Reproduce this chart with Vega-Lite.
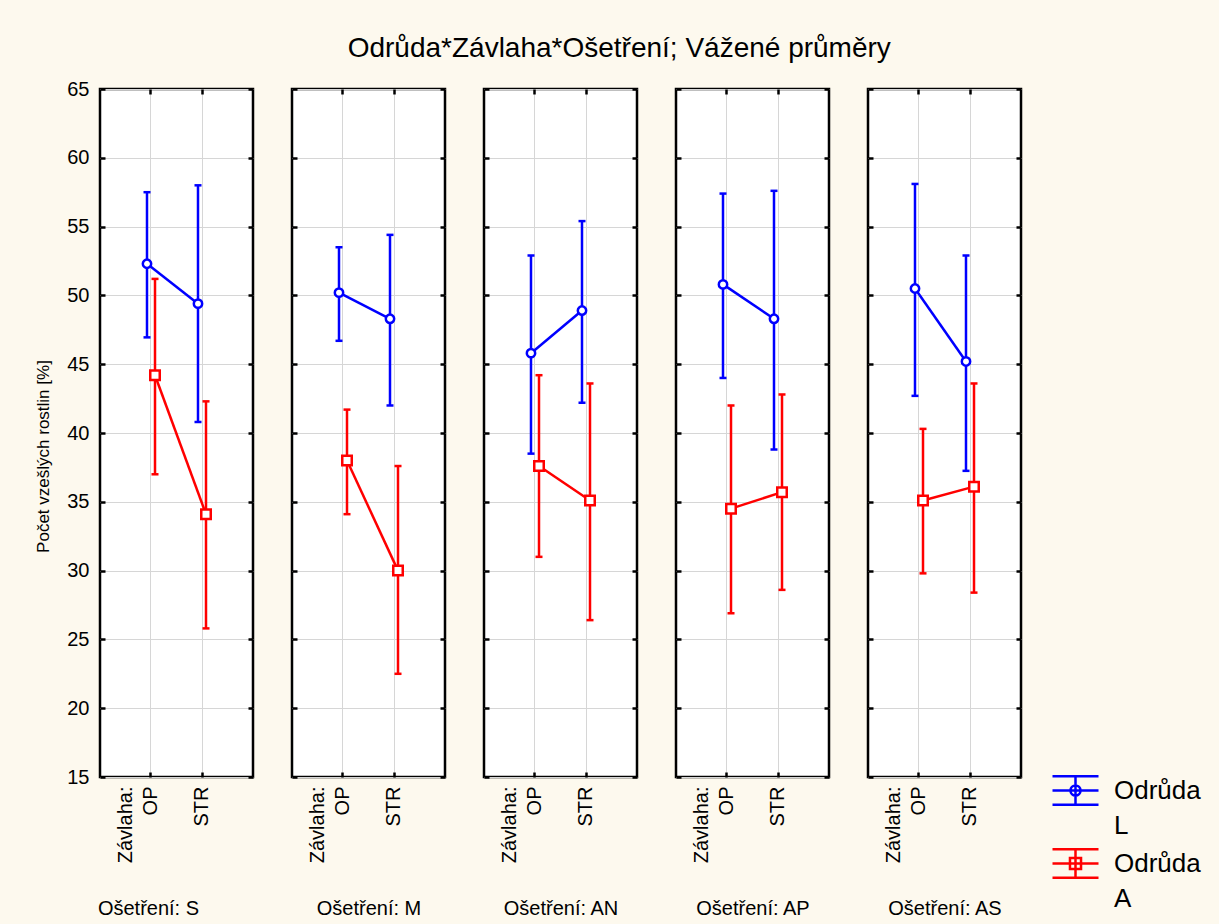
{
  "$schema": "https://vega.github.io/schema/vega-lite/v6.json",
  "background": "#FDF9EE",
  "padding": {"left": 33, "top": 34, "right": 18, "bottom": 5},
  "title": {"text": "Odrůda*Závlaha*Ošetření; Vážené průměry", "font": "Liberation Sans", "fontSize": 28, "fontWeight": "normal", "color": "black", "anchor": "middle", "dx": 2, "offset": 15},
  "datasets": {
    "d": [
      {"O": "S", "Z": "OP", "V": "L", "m": 52.3, "lo": 46.95, "hi": 57.5},
      {"O": "S", "Z": "STR", "V": "L", "m": 49.4, "lo": 40.8, "hi": 58.0},
      {"O": "S", "Z": "OP", "V": "A", "m": 44.2, "lo": 37.0, "hi": 51.2},
      {"O": "S", "Z": "STR", "V": "A", "m": 34.1, "lo": 25.8, "hi": 42.3},
      {"O": "M", "Z": "OP", "V": "L", "m": 50.2, "lo": 46.7, "hi": 53.5},
      {"O": "M", "Z": "STR", "V": "L", "m": 48.3, "lo": 42.0, "hi": 54.4},
      {"O": "M", "Z": "OP", "V": "A", "m": 38.0, "lo": 34.1, "hi": 41.7},
      {"O": "M", "Z": "STR", "V": "A", "m": 30.0, "lo": 22.5, "hi": 37.6},
      {"O": "AN", "Z": "OP", "V": "L", "m": 45.8, "lo": 38.5, "hi": 52.9},
      {"O": "AN", "Z": "STR", "V": "L", "m": 48.9, "lo": 42.2, "hi": 55.4},
      {"O": "AN", "Z": "OP", "V": "A", "m": 37.6, "lo": 31.0, "hi": 44.2},
      {"O": "AN", "Z": "STR", "V": "A", "m": 35.1, "lo": 26.4, "hi": 43.6},
      {"O": "AP", "Z": "OP", "V": "L", "m": 50.8, "lo": 44.0, "hi": 57.4},
      {"O": "AP", "Z": "STR", "V": "L", "m": 48.3, "lo": 38.8, "hi": 57.6},
      {"O": "AP", "Z": "OP", "V": "A", "m": 34.5, "lo": 26.9, "hi": 42.0},
      {"O": "AP", "Z": "STR", "V": "A", "m": 35.7, "lo": 28.6, "hi": 42.8},
      {"O": "AS", "Z": "OP", "V": "L", "m": 50.5, "lo": 42.7, "hi": 58.1},
      {"O": "AS", "Z": "STR", "V": "L", "m": 45.2, "lo": 37.25, "hi": 52.9},
      {"O": "AS", "Z": "OP", "V": "A", "m": 35.1, "lo": 29.8, "hi": 40.3},
      {"O": "AS", "Z": "STR", "V": "A", "m": 36.1, "lo": 28.4, "hi": 43.6}
    ]
  },
  "data": {"name": "d"},
  "spacing": 39,
  "bounds": "flush",
  "hconcat": [
    {
      "width": 153, "height": 688,
      "transform": [{"filter": "datum.O == 'S'"}],
      "encoding": {
        "x": {"field": "Z", "type": "nominal", "scale": {"type": "band", "domain": ["OP", "STR"], "paddingInner": 0.686, "paddingOuter": 0.843}, "axis": null},
        "xOffset": {"field": "V", "type": "nominal", "scale": {"domain": ["L", "A"], "paddingInner": 0, "paddingOuter": 0}},
        "color": {"field": "V", "type": "nominal", "scale": {"domain": ["L", "A"], "range": ["#0000FF", "#FF0000"]}}
      },
      "layer": [
        {"mark": {"type": "point", "filled": false, "opacity": 0, "strokeWidth": 2.5},
         "encoding": {
           "y": {"field": "m", "type": "quantitative", "scale": {"domain": [15, 65], "nice": false, "zero": false}, "axis": null},
           "color": {"field": "V", "type": "nominal", "scale": {"domain": ["L", "A"], "range": ["#0000FF", "#FF0000"]},
                     "legend": {"title": null, "orient": "none", "legendX": 951, "legendY": 677, "padding": 0, "labelExpr": "['Odrůda', datum.label]", "labelFont": "Liberation Sans", "labelFontSize": 26, "labelColor": "black", "labelOffset": 14, "symbolSize": 2116, "symbolStrokeWidth": 2.5, "symbolOpacity": 1, "rowPadding": 0, "labelLimit": 300}},
           "shape": {"field": "V", "type": "nominal", "scale": {"domain": ["L", "A"], "range": ["M-1,-0.62L1,-0.62M-1,0L1,0M-1,0.62L1,0.62M0,-0.62L0,0.62M0.22,0A0.22,0.22,0,1,1,-0.22,0A0.22,0.22,0,1,1,0.22,0", "M-1,-0.62L1,-0.62M-1,0L1,0M-1,0.62L1,0.62M0,-0.62L0,0.62M-0.24,-0.24L0.24,-0.24L0.24,0.24L-0.24,0.24Z"]},
                     "legend": {"title": null, "orient": "none", "legendX": 951, "legendY": 677, "padding": 0, "labelExpr": "['Odrůda', datum.label]", "labelFont": "Liberation Sans", "labelFontSize": 26, "labelColor": "black", "labelOffset": 14, "symbolSize": 2116, "symbolStrokeWidth": 2.5, "symbolOpacity": 1, "rowPadding": 0, "labelLimit": 300}}}},
        {"mark": {"type": "rule", "strokeWidth": 2.5},
         "encoding": {
           "x": {"field": "Z", "type": "nominal", "scale": {"type": "band", "domain": ["OP", "STR"], "paddingInner": 0.686, "paddingOuter": 0.843},
                 "axis": {"orient": "bottom", "grid": true, "labelExpr": "datum.value == 'OP' ? ['Závlaha:', 'OP'] : datum.value", "labelOffset": {"condition": {"test": "datum.value == 'OP'", "value": -25}, "value": 0}, "title": "Ošetření: S", "titleX": 48}},
           "y": {"field": "lo", "type": "quantitative", "scale": {"domain": [15, 65], "nice": false, "zero": false},
                 "axis": {"orient": "left", "values": [15, 20, 25, 30, 35, 40, 45, 50, 55, 60, 65], "grid": true, "labelFlush": false, "labelOverlap": false, "title": "Počet vzešlých rostlin [%]", "titleY": 367}},
           "y2": {"field": "hi"}}},
        {"mark": {"type": "tick", "thickness": 0.5, "size": 5, "filled": false, "strokeWidth": 2, "opacity": 1},
         "encoding": {"y": {"field": "lo", "type": "quantitative", "scale": {"domain": [15, 65], "nice": false, "zero": false}, "axis": null}}},
        {"mark": {"type": "tick", "thickness": 0.5, "size": 5, "filled": false, "strokeWidth": 2, "opacity": 1},
         "encoding": {"y": {"field": "hi", "type": "quantitative", "scale": {"domain": [15, 65], "nice": false, "zero": false}, "axis": null}}},
        {"mark": {"type": "line", "strokeWidth": 2.5},
         "encoding": {
           "x": {"field": "Z", "type": "nominal", "scale": {"type": "band", "domain": ["OP", "STR"], "paddingInner": 0.686, "paddingOuter": 0.843}, "axis": {"orient": "top", "grid": false, "labels": false, "title": null}},
           "y": {"field": "m", "type": "quantitative", "scale": {"domain": [15, 65], "nice": false, "zero": false}, "axis": {"orient": "right", "values": [15, 20, 25, 30, 35, 40, 45, 50, 55, 60, 65], "grid": false, "labels": false, "title": null}}}},
        {"transform": [{"filter": "datum.V == 'L'"}],
         "mark": {"type": "point", "shape": "circle", "size": 70, "filled": true, "stroke": "#0000FF", "strokeWidth": 2.5, "opacity": 1},
         "encoding": {"y": {"field": "m", "type": "quantitative", "scale": {"domain": [15, 65], "nice": false, "zero": false}, "axis": null}, "color": {"value": "white"}}},
        {"transform": [{"filter": "datum.V == 'A'"}],
         "mark": {"type": "point", "shape": "square", "size": 90, "filled": true, "stroke": "#FF0000", "strokeWidth": 2.5, "opacity": 1},
         "encoding": {"y": {"field": "m", "type": "quantitative", "scale": {"domain": [15, 65], "nice": false, "zero": false}, "axis": null}, "color": {"value": "white"}}}
      ]
    },
    {
      "width": 153, "height": 688,
      "transform": [{"filter": "datum.O == 'M'"}],
      "encoding": {
        "x": {"field": "Z", "type": "nominal", "scale": {"type": "band", "domain": ["OP", "STR"], "paddingInner": 0.686, "paddingOuter": 0.843}, "axis": null},
        "xOffset": {"field": "V", "type": "nominal", "scale": {"domain": ["L", "A"], "paddingInner": 0, "paddingOuter": 0}},
        "color": {"field": "V", "type": "nominal", "scale": {"domain": ["L", "A"], "range": ["#0000FF", "#FF0000"]}}
      },
      "layer": [
        {"mark": {"type": "rule", "strokeWidth": 2.5},
         "encoding": {
           "x": {"field": "Z", "type": "nominal", "scale": {"type": "band", "domain": ["OP", "STR"], "paddingInner": 0.686, "paddingOuter": 0.843},
                 "axis": {"orient": "bottom", "grid": true, "labelExpr": "datum.value == 'OP' ? ['Závlaha:', 'OP'] : datum.value", "labelOffset": {"condition": {"test": "datum.value == 'OP'", "value": -25}, "value": 0}, "title": "Ošetření: M"}},
           "y": {"field": "lo", "type": "quantitative", "scale": {"domain": [15, 65], "nice": false, "zero": false},
                 "axis": {"orient": "left", "values": [15, 20, 25, 30, 35, 40, 45, 50, 55, 60, 65], "grid": true, "labels": false, "title": null}},
           "y2": {"field": "hi"}}},
        {"mark": {"type": "tick", "thickness": 0.5, "size": 5, "filled": false, "strokeWidth": 2, "opacity": 1},
         "encoding": {"y": {"field": "lo", "type": "quantitative", "scale": {"domain": [15, 65], "nice": false, "zero": false}, "axis": null}}},
        {"mark": {"type": "tick", "thickness": 0.5, "size": 5, "filled": false, "strokeWidth": 2, "opacity": 1},
         "encoding": {"y": {"field": "hi", "type": "quantitative", "scale": {"domain": [15, 65], "nice": false, "zero": false}, "axis": null}}},
        {"mark": {"type": "line", "strokeWidth": 2.5},
         "encoding": {
           "x": {"field": "Z", "type": "nominal", "scale": {"type": "band", "domain": ["OP", "STR"], "paddingInner": 0.686, "paddingOuter": 0.843}, "axis": {"orient": "top", "grid": false, "labels": false, "title": null}},
           "y": {"field": "m", "type": "quantitative", "scale": {"domain": [15, 65], "nice": false, "zero": false}, "axis": {"orient": "right", "values": [15, 20, 25, 30, 35, 40, 45, 50, 55, 60, 65], "grid": false, "labels": false, "title": null}}}},
        {"transform": [{"filter": "datum.V == 'L'"}],
         "mark": {"type": "point", "shape": "circle", "size": 70, "filled": true, "stroke": "#0000FF", "strokeWidth": 2.5, "opacity": 1},
         "encoding": {"y": {"field": "m", "type": "quantitative", "scale": {"domain": [15, 65], "nice": false, "zero": false}, "axis": null}, "color": {"value": "white"}}},
        {"transform": [{"filter": "datum.V == 'A'"}],
         "mark": {"type": "point", "shape": "square", "size": 90, "filled": true, "stroke": "#FF0000", "strokeWidth": 2.5, "opacity": 1},
         "encoding": {"y": {"field": "m", "type": "quantitative", "scale": {"domain": [15, 65], "nice": false, "zero": false}, "axis": null}, "color": {"value": "white"}}}
      ]
    },
    {
      "width": 153, "height": 688,
      "transform": [{"filter": "datum.O == 'AN'"}],
      "encoding": {
        "x": {"field": "Z", "type": "nominal", "scale": {"type": "band", "domain": ["OP", "STR"], "paddingInner": 0.686, "paddingOuter": 0.843}, "axis": null},
        "xOffset": {"field": "V", "type": "nominal", "scale": {"domain": ["L", "A"], "paddingInner": 0, "paddingOuter": 0}},
        "color": {"field": "V", "type": "nominal", "scale": {"domain": ["L", "A"], "range": ["#0000FF", "#FF0000"]}}
      },
      "layer": [
        {"mark": {"type": "rule", "strokeWidth": 2.5},
         "encoding": {
           "x": {"field": "Z", "type": "nominal", "scale": {"type": "band", "domain": ["OP", "STR"], "paddingInner": 0.686, "paddingOuter": 0.843},
                 "axis": {"orient": "bottom", "grid": true, "labelExpr": "datum.value == 'OP' ? ['Závlaha:', 'OP'] : datum.value", "labelOffset": {"condition": {"test": "datum.value == 'OP'", "value": -25}, "value": 0}, "title": "Ošetření: AN"}},
           "y": {"field": "lo", "type": "quantitative", "scale": {"domain": [15, 65], "nice": false, "zero": false},
                 "axis": {"orient": "left", "values": [15, 20, 25, 30, 35, 40, 45, 50, 55, 60, 65], "grid": true, "labels": false, "title": null}},
           "y2": {"field": "hi"}}},
        {"mark": {"type": "tick", "thickness": 0.5, "size": 5, "filled": false, "strokeWidth": 2, "opacity": 1},
         "encoding": {"y": {"field": "lo", "type": "quantitative", "scale": {"domain": [15, 65], "nice": false, "zero": false}, "axis": null}}},
        {"mark": {"type": "tick", "thickness": 0.5, "size": 5, "filled": false, "strokeWidth": 2, "opacity": 1},
         "encoding": {"y": {"field": "hi", "type": "quantitative", "scale": {"domain": [15, 65], "nice": false, "zero": false}, "axis": null}}},
        {"mark": {"type": "line", "strokeWidth": 2.5},
         "encoding": {
           "x": {"field": "Z", "type": "nominal", "scale": {"type": "band", "domain": ["OP", "STR"], "paddingInner": 0.686, "paddingOuter": 0.843}, "axis": {"orient": "top", "grid": false, "labels": false, "title": null}},
           "y": {"field": "m", "type": "quantitative", "scale": {"domain": [15, 65], "nice": false, "zero": false}, "axis": {"orient": "right", "values": [15, 20, 25, 30, 35, 40, 45, 50, 55, 60, 65], "grid": false, "labels": false, "title": null}}}},
        {"transform": [{"filter": "datum.V == 'L'"}],
         "mark": {"type": "point", "shape": "circle", "size": 70, "filled": true, "stroke": "#0000FF", "strokeWidth": 2.5, "opacity": 1},
         "encoding": {"y": {"field": "m", "type": "quantitative", "scale": {"domain": [15, 65], "nice": false, "zero": false}, "axis": null}, "color": {"value": "white"}}},
        {"transform": [{"filter": "datum.V == 'A'"}],
         "mark": {"type": "point", "shape": "square", "size": 90, "filled": true, "stroke": "#FF0000", "strokeWidth": 2.5, "opacity": 1},
         "encoding": {"y": {"field": "m", "type": "quantitative", "scale": {"domain": [15, 65], "nice": false, "zero": false}, "axis": null}, "color": {"value": "white"}}}
      ]
    },
    {
      "width": 153, "height": 688,
      "transform": [{"filter": "datum.O == 'AP'"}],
      "encoding": {
        "x": {"field": "Z", "type": "nominal", "scale": {"type": "band", "domain": ["OP", "STR"], "paddingInner": 0.686, "paddingOuter": 0.843}, "axis": null},
        "xOffset": {"field": "V", "type": "nominal", "scale": {"domain": ["L", "A"], "paddingInner": 0, "paddingOuter": 0}},
        "color": {"field": "V", "type": "nominal", "scale": {"domain": ["L", "A"], "range": ["#0000FF", "#FF0000"]}}
      },
      "layer": [
        {"mark": {"type": "rule", "strokeWidth": 2.5},
         "encoding": {
           "x": {"field": "Z", "type": "nominal", "scale": {"type": "band", "domain": ["OP", "STR"], "paddingInner": 0.686, "paddingOuter": 0.843},
                 "axis": {"orient": "bottom", "grid": true, "labelExpr": "datum.value == 'OP' ? ['Závlaha:', 'OP'] : datum.value", "labelOffset": {"condition": {"test": "datum.value == 'OP'", "value": -25}, "value": 0}, "title": "Ošetření: AP"}},
           "y": {"field": "lo", "type": "quantitative", "scale": {"domain": [15, 65], "nice": false, "zero": false},
                 "axis": {"orient": "left", "values": [15, 20, 25, 30, 35, 40, 45, 50, 55, 60, 65], "grid": true, "labels": false, "title": null}},
           "y2": {"field": "hi"}}},
        {"mark": {"type": "tick", "thickness": 0.5, "size": 5, "filled": false, "strokeWidth": 2, "opacity": 1},
         "encoding": {"y": {"field": "lo", "type": "quantitative", "scale": {"domain": [15, 65], "nice": false, "zero": false}, "axis": null}}},
        {"mark": {"type": "tick", "thickness": 0.5, "size": 5, "filled": false, "strokeWidth": 2, "opacity": 1},
         "encoding": {"y": {"field": "hi", "type": "quantitative", "scale": {"domain": [15, 65], "nice": false, "zero": false}, "axis": null}}},
        {"mark": {"type": "line", "strokeWidth": 2.5},
         "encoding": {
           "x": {"field": "Z", "type": "nominal", "scale": {"type": "band", "domain": ["OP", "STR"], "paddingInner": 0.686, "paddingOuter": 0.843}, "axis": {"orient": "top", "grid": false, "labels": false, "title": null}},
           "y": {"field": "m", "type": "quantitative", "scale": {"domain": [15, 65], "nice": false, "zero": false}, "axis": {"orient": "right", "values": [15, 20, 25, 30, 35, 40, 45, 50, 55, 60, 65], "grid": false, "labels": false, "title": null}}}},
        {"transform": [{"filter": "datum.V == 'L'"}],
         "mark": {"type": "point", "shape": "circle", "size": 70, "filled": true, "stroke": "#0000FF", "strokeWidth": 2.5, "opacity": 1},
         "encoding": {"y": {"field": "m", "type": "quantitative", "scale": {"domain": [15, 65], "nice": false, "zero": false}, "axis": null}, "color": {"value": "white"}}},
        {"transform": [{"filter": "datum.V == 'A'"}],
         "mark": {"type": "point", "shape": "square", "size": 90, "filled": true, "stroke": "#FF0000", "strokeWidth": 2.5, "opacity": 1},
         "encoding": {"y": {"field": "m", "type": "quantitative", "scale": {"domain": [15, 65], "nice": false, "zero": false}, "axis": null}, "color": {"value": "white"}}}
      ]
    },
    {
      "width": 153, "height": 688,
      "transform": [{"filter": "datum.O == 'AS'"}],
      "encoding": {
        "x": {"field": "Z", "type": "nominal", "scale": {"type": "band", "domain": ["OP", "STR"], "paddingInner": 0.686, "paddingOuter": 0.843}, "axis": null},
        "xOffset": {"field": "V", "type": "nominal", "scale": {"domain": ["L", "A"], "paddingInner": 0, "paddingOuter": 0}},
        "color": {"field": "V", "type": "nominal", "scale": {"domain": ["L", "A"], "range": ["#0000FF", "#FF0000"]}}
      },
      "layer": [
        {"mark": {"type": "rule", "strokeWidth": 2.5},
         "encoding": {
           "x": {"field": "Z", "type": "nominal", "scale": {"type": "band", "domain": ["OP", "STR"], "paddingInner": 0.686, "paddingOuter": 0.843},
                 "axis": {"orient": "bottom", "grid": true, "labelExpr": "datum.value == 'OP' ? ['Závlaha:', 'OP'] : datum.value", "labelOffset": {"condition": {"test": "datum.value == 'OP'", "value": -25}, "value": 0}, "title": "Ošetření: AS"}},
           "y": {"field": "lo", "type": "quantitative", "scale": {"domain": [15, 65], "nice": false, "zero": false},
                 "axis": {"orient": "left", "values": [15, 20, 25, 30, 35, 40, 45, 50, 55, 60, 65], "grid": true, "labels": false, "title": null}},
           "y2": {"field": "hi"}}},
        {"mark": {"type": "tick", "thickness": 0.5, "size": 5, "filled": false, "strokeWidth": 2, "opacity": 1},
         "encoding": {"y": {"field": "lo", "type": "quantitative", "scale": {"domain": [15, 65], "nice": false, "zero": false}, "axis": null}}},
        {"mark": {"type": "tick", "thickness": 0.5, "size": 5, "filled": false, "strokeWidth": 2, "opacity": 1},
         "encoding": {"y": {"field": "hi", "type": "quantitative", "scale": {"domain": [15, 65], "nice": false, "zero": false}, "axis": null}}},
        {"mark": {"type": "line", "strokeWidth": 2.5},
         "encoding": {
           "x": {"field": "Z", "type": "nominal", "scale": {"type": "band", "domain": ["OP", "STR"], "paddingInner": 0.686, "paddingOuter": 0.843}, "axis": {"orient": "top", "grid": false, "labels": false, "title": null}},
           "y": {"field": "m", "type": "quantitative", "scale": {"domain": [15, 65], "nice": false, "zero": false}, "axis": {"orient": "right", "values": [15, 20, 25, 30, 35, 40, 45, 50, 55, 60, 65], "grid": false, "labels": false, "title": null}}}},
        {"transform": [{"filter": "datum.V == 'L'"}],
         "mark": {"type": "point", "shape": "circle", "size": 70, "filled": true, "stroke": "#0000FF", "strokeWidth": 2.5, "opacity": 1},
         "encoding": {"y": {"field": "m", "type": "quantitative", "scale": {"domain": [15, 65], "nice": false, "zero": false}, "axis": null}, "color": {"value": "white"}}},
        {"transform": [{"filter": "datum.V == 'A'"}],
         "mark": {"type": "point", "shape": "square", "size": 90, "filled": true, "stroke": "#FF0000", "strokeWidth": 2.5, "opacity": 1},
         "encoding": {"y": {"field": "m", "type": "quantitative", "scale": {"domain": [15, 65], "nice": false, "zero": false}, "axis": null}, "color": {"value": "white"}}}
      ]
    }
  ],
  "resolve": {"scale": {"color": "shared", "shape": "shared"}, "legend": {"color": "shared", "shape": "shared"}},
  "config": {
    "font": "Liberation Sans",
    "view": {"fill": "white", "stroke": "black", "strokeWidth": 2.5},
    "style": {"guide-label": {"lineHeight": 35}},
    "axis": {"domain": false, "tickSize": -5, "tickWidth": 2.5, "tickColor": "black", "labelFont": "Liberation Sans", "labelFontSize": 20, "labelColor": "black", "titleFont": "Liberation Sans", "titleFontWeight": "normal", "titleColor": "black", "gridColor": "#D6D6D6", "gridWidth": 1},
    "axisX": {"labelAngle": 270, "labelPadding": 14, "labelLineHeight": 25, "titleFontSize": 20, "titlePadding": 36, "bandPosition": 0.5},
    "axisY": {"labelPadding": 16, "titleFontSize": 17, "titlePadding": 14},
    "legend": {"title": null, "labelFont": "Liberation Sans", "labelFontSize": 26, "labelColor": "black", "symbolStrokeWidth": 2.5}
  }
}
